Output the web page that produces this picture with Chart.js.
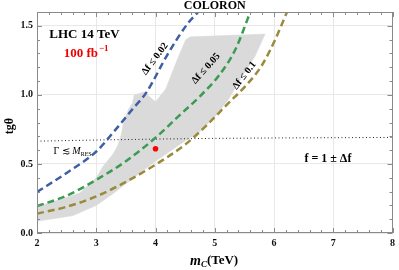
<!DOCTYPE html>
<html><head><meta charset="utf-8">
<script src="https://cdn.jsdelivr.net/npm/chart.js@4/dist/chart.umd.min.js"></script>
<style>html,body{margin:0;padding:0;background:#fff}#wrap{width:399px;height:270px}canvas{display:block}</style>
</head><body><div id="wrap"><canvas id="c" width="399" height="270" style="width:399px;height:270px"></canvas></div>
<script>
// ---- data ----
const xTicks = [2, 3, 4, 5, 6, 7, 8];
const yTicks = [0, 0.5, 1.0, 1.5];

const blueX = [2, 2.5, 3, 3.33, 3.6, 3.85, 4.2, 4.55, 4.72];
const blueY = [0.297, 0.435, 0.59, 0.75, 0.89, 1.02, 1.29, 1.52, 1.60];

const greenX = [2, 2.5, 3, 3.5, 4, 4.4, 4.75, 5.07, 5.35, 5.6];
const greenY = [0.195, 0.27, 0.385, 0.52, 0.69, 0.85, 0.99, 1.14, 1.33, 1.60];

const oliveX = [2, 2.5, 3, 3.5, 4, 4.5, 4.84, 5.23, 5.51, 5.79, 6.02, 6.22];
const oliveY = [0.14, 0.19, 0.265, 0.37, 0.495, 0.64, 0.77, 0.94, 1.06, 1.21, 1.40, 1.60];

const widthX = [2, 3, 4, 5, 6, 7, 8];
const widthY = [0.665, 0.673, 0.68, 0.685, 0.688, 0.69, 0.692];

const regionX = [2.0, 2.0, 2.44, 2.72, 3.0, 3.11, 3.28, 3.36, 3.42, 3.47, 3.55, 3.61, 3.64, 3.81, 4.0, 4.17, 4.39, 4.51, 4.59, 5.85, 5.68, 5.40, 5.23, 5.01, 4.73, 4.51, 4.0, 3.6, 3.3, 3.0, 2.6, 2.0];
const regionY = [0.085, 0.19, 0.25, 0.29, 0.40, 0.48, 0.57, 0.63, 0.71, 0.82, 0.90, 0.94, 1.0, 1.02, 0.95, 1.04, 1.28, 1.40, 1.42, 1.44, 1.28, 1.09, 0.966, 0.845, 0.725, 0.67, 0.52, 0.39, 0.29, 0.2, 0.125, 0.085];

const benchX = [4.0];
const benchY = [0.61];

const zip = (xs, ys) => xs.map((x, i) => ({x, y: ys[i]}));

const SERIF = '"Liberation Serif", "DejaVu Serif", serif';

function txt(ctx, s, x, y, font, color, align) {
  ctx.font = font; ctx.fillStyle = color || '#000';
  ctx.textAlign = align || 'left'; ctx.textBaseline = 'middle';
  ctx.fillText(s, x, y);
  return ctx.measureText(s).width;
}

const decor = {
  id: 'decor',
  afterDatasetsDraw(chart) {
    const {ctx, chartArea: a, scales: {x, y}} = chart;
    ctx.save();
    // frame
    ctx.strokeStyle = '#8a8a8a'; ctx.lineWidth = 1;
    ctx.strokeRect(Math.round(a.left) + 0.5, Math.round(a.top) + 0.5, Math.round(a.right - a.left) - 1, Math.round(a.bottom - a.top) - 1);
    // inner ticks
    ctx.beginPath();
    for (let i = 0; i <= 30; i++) {
      const v = 2 + i * 0.2, px = Math.round(x.getPixelForValue(v)) + 0.5;
      const len = i % 5 === 0 ? 5 : 3;
      ctx.moveTo(px, a.bottom); ctx.lineTo(px, a.bottom - len);
      ctx.moveTo(px, a.top); ctx.lineTo(px, a.top + len);
    }
    for (let i = 0; i <= 16; i++) {
      const v = i * 0.1, py = Math.round(y.getPixelForValue(v)) + 0.5;
      const len = i % 5 === 0 ? 5 : 3;
      ctx.moveTo(a.left, py); ctx.lineTo(a.left + len, py);
      ctx.moveTo(a.right, py); ctx.lineTo(a.right - len, py);
    }
    ctx.stroke();

    const X = v => x.getPixelForValue(v), Y = v => y.getPixelForValue(v);
    // title
    txt(ctx, 'COLORON', (a.left + a.right) / 2, 6, 'bold 12px ' + SERIF, '#000', 'center');
    // axis titles
    ctx.save(); ctx.translate(10, 126); ctx.rotate(-Math.PI / 2);
    txt(ctx, 'tgθ', 0, 0, 'bold 12px ' + SERIF, '#000', 'center'); ctx.restore();
    {
      let cx = 190, cy = 261;
      cx += txt(ctx, 'm', cx, cy, 'italic bold 14px ' + SERIF);
      cx += txt(ctx, 'C', cx, cy + 4, 'italic bold 9px ' + SERIF);
      txt(ctx, '(TeV)', cx, cy, 'bold 13px ' + SERIF);
    }
    // annotations
    txt(ctx, 'LHC 14 TeV', X(2.8), Y(1.437), 'bold 13px ' + SERIF, '#000', 'center');
    {
      let cx = X(2.45), cy = Y(1.30);
      cx += txt(ctx, '100 fb', cx, cy, 'bold 13px ' + SERIF, '#ee0000');
      txt(ctx, '\u22121', cx + 1, cy - 5, 'bold 9px ' + SERIF, '#ee0000');
    }
    const rot = (s, vx, vy, ang) => {
      ctx.save(); ctx.translate(X(vx), Y(vy)); ctx.rotate(ang * Math.PI / 180);
      txt(ctx, s, 0, 0, 'bold 10px ' + SERIF, '#000', 'center'); ctx.restore();
    };
    rot('Δf ≤ 0.02', 3.99, 1.26, -53);
    rot('Δf ≤ 0.05', 4.85, 1.19, -48);
    rot('Δf ≤ 0.1', 5.50, 1.14, -52);
    {
      let cx = X(2.28), cy = Y(0.59);
      cx += txt(ctx, 'Γ ≲ ', cx, cy, '10px ' + SERIF);
      cx += txt(ctx, 'M', cx, cy, 'italic 10px ' + SERIF);
      txt(ctx, 'RES', cx, cy + 3, '6px ' + SERIF);
    }
    txt(ctx, 'f = 1 ± Δf', X(6.91), Y(0.54), 'bold 12px ' + SERIF, '#000', 'center');
    ctx.restore();
  }
};

const dashed = (data, color) => ({
  data: zip(...data), borderColor: color, borderWidth: 2.5, borderDash: [7, 4],
  pointRadius: 0, fill: false, cubicInterpolationMode: 'monotone', order: 2, showLine: true
});

new Chart(document.getElementById('c'), {
  type: 'scatter',
  data: {
    datasets: [
      { data: zip(benchX, benchY), pointRadius: 2.8, pointBackgroundColor: '#ff0000', pointBorderWidth: 0, showLine: false, order: 0 },
      { data: zip(widthX, widthY), showLine: true, borderColor: '#222', borderWidth: 1, borderDash: [1, 2.5], pointRadius: 0, order: 3 },
      dashed([blueX, blueY], '#3e5fa5'),
      dashed([greenX, greenY], '#3a9b52'),
      dashed([oliveX, oliveY], '#9a8a3c'),
      { data: zip(regionX, regionY), showLine: true, fill: 'shape', backgroundColor: '#dadada', borderColor: '#dadada', borderWidth: 0.5, pointRadius: 0, tension: 0, order: 10 }
    ]
  },
  options: {
    responsive: false, animation: false, devicePixelRatio: 1,
    layout: { padding: { top: 12, right: 4, left: 0, bottom: 0 } },
    plugins: { legend: { display: false }, tooltip: { enabled: false }, title: { display: false } },
    scales: {
      x: {
        type: 'linear', min: 2, max: 8,
        afterBuildTicks: s => { s.ticks = xTicks.map(v => ({value: v})); },
        afterFit: s => { s.height = 37; },
        grid: { color: '#e8e8e8', drawTicks: false, lineWidth: 1 },
        border: { display: false },
        ticks: { padding: 4, color: '#111', font: { family: SERIF, weight: 'bold', size: 10 }, callback: v => String(v) }
      },
      y: {
        type: 'linear', min: 0, max: 1.6,
        afterBuildTicks: s => { s.ticks = yTicks.map(v => ({value: v})); },
        afterFit: s => { s.width = 37; },
        grid: { color: '#e8e8e8', drawTicks: false, lineWidth: 1 },
        border: { display: false },
        ticks: { padding: 4, color: '#111', font: { family: SERIF, weight: 'bold', size: 10 }, callback: v => v.toFixed(1) }
      }
    }
  },
  plugins: [decor]
});
</script></body></html>
